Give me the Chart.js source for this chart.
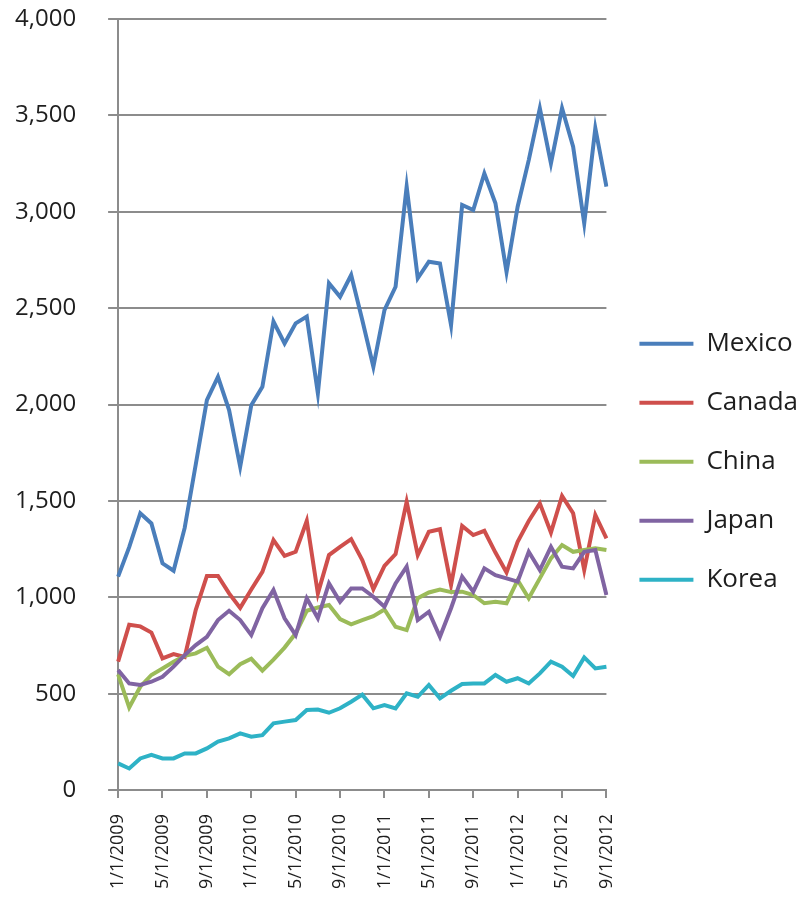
<!DOCTYPE html>
<html>
<head>
<meta charset="utf-8">
<script src="https://cdn.jsdelivr.net/npm/chart.js@4/dist/chart.umd.min.js"></script>
<style>
    html, body { margin: 0; padding: 0; background: #fff; }
    #wrap { position: relative; width: 804px; height: 913px; }
</style>
</head>
<body>
<div id="wrap"><canvas id="myChart"></canvas></div>
<script>
// monthly, 1/1/2009 .. 9/1/2012
const months = [
    '1/1/2009', '2/1/2009', '3/1/2009', '4/1/2009', '5/1/2009', '6/1/2009',
    '7/1/2009', '8/1/2009', '9/1/2009', '10/1/2009', '11/1/2009', '12/1/2009',
    '1/1/2010', '2/1/2010', '3/1/2010', '4/1/2010', '5/1/2010', '6/1/2010',
    '7/1/2010', '8/1/2010', '9/1/2010', '10/1/2010', '11/1/2010', '12/1/2010',
    '1/1/2011', '2/1/2011', '3/1/2011', '4/1/2011', '5/1/2011', '6/1/2011',
    '7/1/2011', '8/1/2011', '9/1/2011', '10/1/2011', '11/1/2011', '12/1/2011',
    '1/1/2012', '2/1/2012', '3/1/2012', '4/1/2012', '5/1/2012', '6/1/2012',
    '7/1/2012', '8/1/2012', '9/1/2012'
];

const mexico = [1107, 1260, 1436, 1383, 1176, 1138, 1360, 1690, 2023, 2144, 1971, 1677,
    1997, 2092, 2430, 2317, 2421, 2456, 2058, 2629, 2559, 2672, 2438, 2196,
    2490, 2611, 3130, 2655, 2741, 2732, 2412, 3035, 3009, 3199, 3044, 2687,
    3026, 3268, 3537, 3251, 3537, 3338, 2940, 3433, 3130];
const canada = [666, 858, 849, 817, 683, 705, 690, 935, 1111, 1111, 1020, 945,
    1040, 1132, 1297, 1215, 1236, 1396, 1020, 1219, 1262, 1302, 1193, 1042,
    1163, 1224, 1496, 1219, 1340, 1353, 1064, 1370, 1323, 1345, 1232, 1129,
    1288, 1396, 1487, 1336, 1526, 1436, 1142, 1427, 1306];
const china = [600, 428, 536, 597, 631, 666, 696, 709, 738, 640, 601, 653,
    681, 619, 677, 739, 813, 930, 947, 960, 887, 860, 882, 902,
    937, 847, 830, 995, 1025, 1040, 1027, 1029, 1012, 969, 977, 969,
    1089, 995, 1098, 1202, 1271, 1236, 1245, 1254, 1245];
const japan = [623, 553, 545, 562, 588, 640, 700, 752, 795, 882, 930, 882,
    804, 943, 1038, 891, 804, 995, 891, 1072, 977, 1046, 1046, 1003,
    951, 1072, 1159, 882, 925, 795, 943, 1107, 1029, 1150, 1115, 1098,
    1081, 1236, 1141, 1262, 1159, 1150, 1236, 1245, 1012];
const korea = [138, 112, 164, 182, 164, 164, 190, 190, 216, 251, 268, 294,
    277, 285, 346, 355, 363, 415, 418, 401, 424, 458, 495, 424,
    441, 424, 502, 484, 545, 476, 515, 550, 553, 553, 597, 562,
    580, 553, 605, 666, 640, 592, 688, 631, 640];

const seriesNames = ['Mexico', 'Canada', 'China', 'Japan', 'Korea'];
const seriesData = [mexico, canada, china, japan, korea];
const seriesColors = ['#4A7EBB', '#CF4F4C', '#9BBB59', '#8064A2', '#2EB2C6'];

const gridGray = '#8C8C8C';
const textColor = '#1E1E1E';

const datasets = seriesNames.map((name, i) => ({
    label: name,
    data: seriesData[i],
    borderColor: seriesColors[i],
    backgroundColor: seriesColors[i],
    borderWidth: 4,
    pointRadius: 0,
    tension: 0,
    fill: false,
    order: seriesNames.length - 1 - i // later series drawn on top, like Excel
}));

const ctx = document.getElementById('myChart').getContext('2d');

new Chart(ctx, {
    type: 'line',
    data: {
        labels: months,
        datasets: datasets
    },
    options: {
        responsive: true,
        maintainAspectRatio: false,
        animation: false,
        layout: {
            padding: { top: 0, left: -17, right: -4, bottom: 8 }
        },
        plugins: {
            tooltip: { enabled: false },
            legend: {
                position: 'right',
                reverse: true,
                // empty title only pushes the items down a bit
                title: { display: true, text: ' ', font: { size: 12 }, padding: { top: 0, bottom: 4 } },
                labels: {
                    usePointStyle: true,
                    pointStyle: 'line',
                    pointStyleWidth: 54,
                    color: textColor,
                    padding: 33,
                    font: { family: 'Open Sans', size: 26 }
                }
            }
        },
        scales: {
            x: {
                offset: false,
                border: { color: gridGray, width: 2 },
                grid: {
                    drawOnChartArea: false,
                    tickLength: 8,
                    lineWidth: 2,
                    color: c => (c.index % 4 === 0 ? gridGray : 'rgba(0,0,0,0)')
                },
                ticks: {
                    autoSkip: false,
                    minRotation: 90,
                    maxRotation: 90,
                    padding: 16,
                    color: textColor,
                    font: { family: 'Open Sans', size: 18 },
                    callback: function(value, index) {
                        return index % 4 === 0 ? months[index] : '';
                    }
                }
            },
            y: {
                min: 0,
                max: 4000,
                border: { color: gridGray, width: 2 },
                grid: {
                    color: gridGray,
                    lineWidth: 2,
                    tickLength: 10
                },
                ticks: {
                    stepSize: 500,
                    padding: 32,
                    color: textColor,
                    font: { family: 'Open Sans', size: 24 },
                    callback: v => v.toLocaleString('en-US')
                },
                // the big tick padding would otherwise push the plot top down
                afterFit: function(scale) {
                    scale.paddingTop = 19;
                    scale.paddingBottom = 15;
                }
            }
        }
    }
});
</script>
</body>
</html>
